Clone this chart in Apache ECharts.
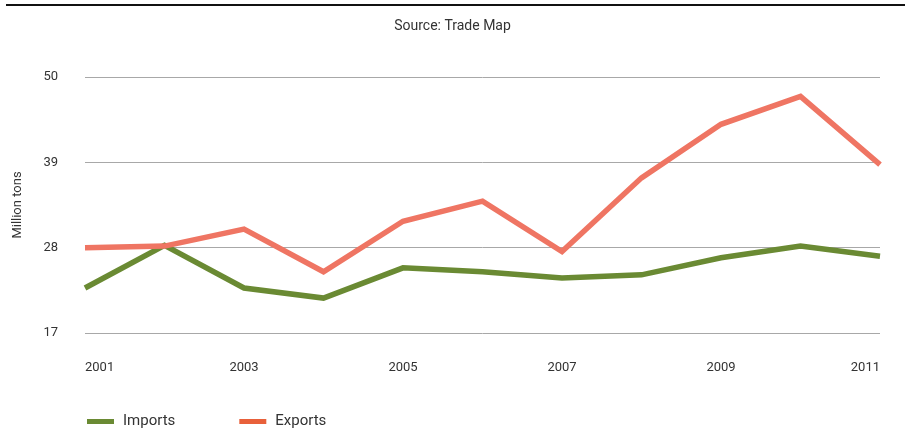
<!DOCTYPE html>
<html>
<head>
<meta charset="utf-8">
<script src="https://cdn.jsdelivr.net/npm/echarts@6/dist/echarts.min.js"></script>
<style>
  html, body { margin: 0; padding: 0; background: #fff; }
  #chart { width: 905px; height: 429px; }
</style>
</head>
<body>
<div id="chart"></div>
<script>
// Annual trade volumes, million tons
const years = ['2001','2002','2003','2004','2005','2006','2007','2008','2009','2010','2011'];
const imports = [22.8, 28.3, 22.8, 21.5, 25.4, 24.9, 24.1, 24.5, 26.7, 28.2, 26.9];
const exports = [28.0, 28.2, 30.4, 24.9, 31.4, 34.0, 27.5, 37.0, 43.9, 47.5, 38.7];
const yTicks = [17, 28, 39, 50];

const FONT = 'Roboto, "Open Sans", sans-serif';
const chart = echarts.init(document.getElementById('chart'), null, { renderer: 'canvas' });

chart.setOption({
  animation: false,
  backgroundColor: '#fff',
  title: {
    text: 'Source: Trade Map',
    left: 'center',
    top: 14,
    textStyle: { fontFamily: FONT, fontSize: 14, fontWeight: 'normal', color: '#333' }
  },
  graphic: [
    { type: 'rect', shape: { x: 6, y: 4, width: 905, height: 2 }, style: { fill: '#111' } }
  ],
  legend: {
    left: 82,
    top: 409,
    itemWidth: 27,
    itemHeight: 5,
    itemGap: 64,
    icon: 'rect',
    textStyle: { fontFamily: FONT, fontSize: 15, color: '#333', padding: [0, 0, 0, 4] },
    data: [
      { name: 'Imports', itemStyle: { color: '#6a8a33' } },
      { name: 'Exports', itemStyle: { color: '#e8603a' } }
    ]
  },
  grid: { left: 85, right: 25, top: 77, bottom: 96 },
  xAxis: {
    type: 'category',
    data: years,
    boundaryGap: false,
    axisLine: { show: false },
    axisTick: { show: false },
    axisLabel: {
      interval: 1,
      margin: 28,
      fontFamily: FONT,
      fontSize: 13,
      color: '#333',
      alignMinLabel: 'left',
      alignMaxLabel: 'right'
    }
  },
  yAxis: {
    type: 'value',
    min: yTicks[0],
    max: yTicks[yTicks.length - 1],
    interval: yTicks[1] - yTicks[0],
    name: 'Million tons',
    nameLocation: 'middle',
    nameRotate: 90,
    nameGap: 61,
    nameTextStyle: { fontFamily: FONT, fontSize: 13, color: '#333' },
    axisLine: { show: false },
    axisTick: { show: false },
    axisLabel: { margin: 27, fontFamily: FONT, fontSize: 13, color: '#333' },
    splitLine: { lineStyle: { color: '#a8a8a8', width: 1 } }
  },
  series: [
    {
      name: 'Imports',
      type: 'line',
      data: imports,
      symbol: 'none',
      lineStyle: { color: '#6a8a33', width: 5.5, join: 'miter' },
      itemStyle: { color: '#6a8a33' }
    },
    {
      name: 'Exports',
      type: 'line',
      data: exports,
      symbol: 'none',
      lineStyle: { color: '#ef7563', width: 5.5, join: 'miter' },
      itemStyle: { color: '#e8603a' }
    }
  ]
});
</script>
</body>
</html>
